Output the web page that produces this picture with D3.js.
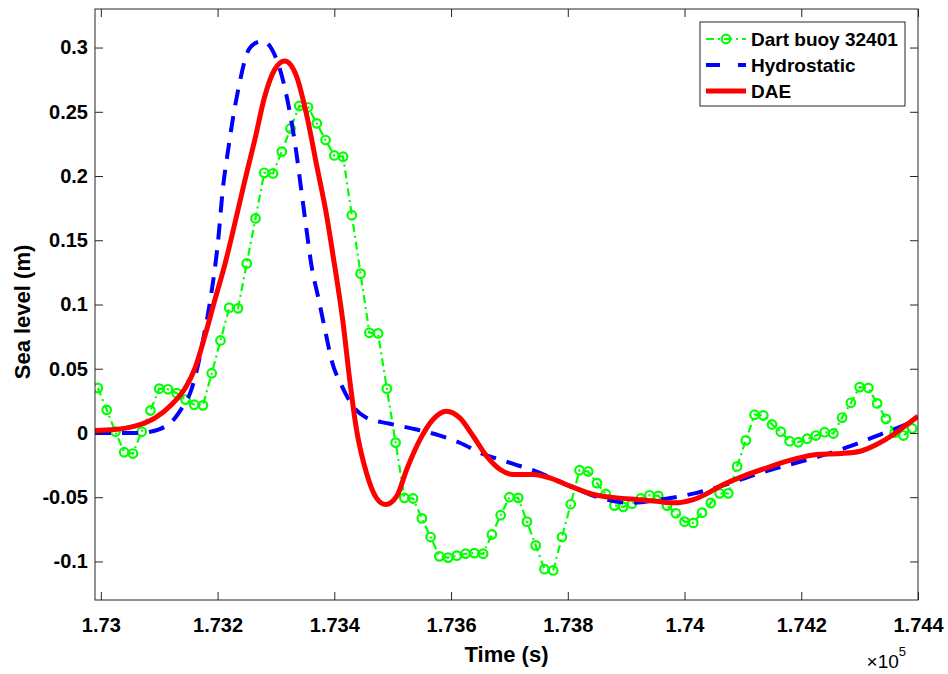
<!DOCTYPE html>
<html><head><meta charset="utf-8">
<script src="https://cdn.jsdelivr.net/npm/d3@7"></script>
<style>
body{margin:0;background:#fff;}
text{font-family:"Liberation Sans",Arial,Helvetica,sans-serif;}
</style></head>
<body><svg id="chart" width="948" height="674"></svg>
<script>
// ---------- data ----------
const buoyTimes = [172995,173010,173025,173040,173055,173070,173085,173100,173115,173130,
173145,173160,173175,173190,173205,173220,173235,173250,173265,173280,
173295,173310,173325,173340,173355,173370,173385,173400,173415,173430,
173445,173460,173475,173490,173505,173520,173535,173550,173565,173580,
173595,173610,173625,173640,173655,173670,173685,173700,173715,173730,
173745,173760,173775,173790,173805,173820,173835,173850,173865,173880,
173895,173910,173925,173940,173955,173970,173985,174000,174015,174030,
174045,174060,174075,174090,174105,174120,174135,174150,174165,174180,
174195,174210,174225,174240,174255,174270,174285,174300,174315,174330,
174345,174360,174375,174390];
const buoyLevels = [0.035,0.018,0.001,-0.015,-0.016,0.001,0.0175,0.0345,0.034,0.031,
0.026,0.022,0.0215,0.0465,0.072,0.0975,0.097,0.132,0.167,0.2025,
0.202,0.219,0.237,0.2545,0.2535,0.241,0.228,0.216,0.215,0.1695,
0.124,0.078,0.0775,0.0345,-0.0075,-0.0505,-0.051,-0.0665,-0.081,-0.096,
-0.097,-0.0955,-0.094,-0.0935,-0.094,-0.079,-0.064,-0.05,-0.0505,-0.069,
-0.0875,-0.106,-0.107,-0.081,-0.0555,-0.029,-0.030,-0.039,-0.0475,-0.0565,
-0.0575,-0.055,-0.051,-0.0485,-0.049,-0.0565,-0.0625,-0.069,-0.070,-0.062,
-0.0545,-0.047,-0.047,-0.026,-0.0058,0.0142,0.0136,0.0066,0.001,-0.0064,
-0.0072,-0.0045,-0.002,0.0006,-0.0004,0.012,0.0235,0.0357,0.035,0.023,
0.011,0.0002,-0.002,0.0035];

const hydroTimes = [172990,173060,173085,173101,173122,173141,173153,173165,173175,173187,
173201,173209,173218,173226,173238,173250,173263,173278,173293,173310,
173324,173335,173344,173353,173361,173372,173384,173395,173413,173432,
173455,173495,173541,173581,173615,173650,173701,173752,173804,173855,
173907,173958,174021,174072,174124,174181,174232,174284,174335,174392,174400];
const hydroLevels = [0.0,0.0,0.001,0.003,0.009,0.021,0.031,0.05,0.072,0.102,
0.15,0.19,0.22,0.244,0.273,0.295,0.303,0.305,0.2987,0.278,
0.249,0.218,0.187,0.156,0.130,0.1065,0.0806,0.0572,0.0364,0.0209,
0.0118,0.0072,0.0027,-0.002,-0.0076,-0.0154,-0.0232,-0.031,-0.0414,-0.0505,
-0.0544,-0.0518,-0.0466,-0.040,-0.032,-0.0245,-0.018,-0.0103,-0.0012,0.0092,0.011];

const daeTimes = [172990,173024,173058,173093,173121,173146,173161,173178,173195,173213,
173230,173247,173264,173281,173298,173315,173335,173353,173370,173387,
173398,173415,173427,173438,173455,173472,173488,173507,173524,173547,
173569,173592,173615,173638,173661,173684,173707,173741,173769,173804,
173844,173884,173918,173952,173981,174015,174041,174061,174101,174141,
174186,174227,174267,174301,174329,174358,174381,174400];
const daeLevels = [0.002,0.0027,0.0053,0.0118,0.022,0.036,0.05,0.075,0.103,0.132,
0.164,0.197,0.2286,0.2623,0.283,0.2896,0.278,0.2467,0.2078,0.1688,
0.1377,0.0858,0.039,0.0027,-0.031,-0.0505,-0.0557,-0.0492,-0.0284,-0.005,
0.0105,0.017,0.0118,-0.0025,-0.018,-0.0284,-0.0323,-0.0323,-0.0349,-0.0414,
-0.0479,-0.0505,-0.0518,-0.0531,-0.0544,-0.0518,-0.0466,-0.0414,-0.0336,-0.0271,
-0.0206,-0.0167,-0.016,-0.0142,-0.009,-0.0012,0.0066,0.013];

const xTicks = [173000,173200,173400,173600,173800,174000,174200,174400];
const xTickLabels = ["1.73","1.732","1.734","1.736","1.738","1.74","1.742","1.744"];
const yTicks = [-0.1,-0.05,0,0.05,0.1,0.15,0.2,0.25,0.3];
const yTickLabels = ["-0.1","-0.05","0","0.05","0.1","0.15","0.2","0.25","0.3"];
const seriesNames = ["Dart buoy 32401","Hydrostatic","DAE"];
const xLabel = "Time (s)";
const yLabel = "Sea level (m)";

// ---------- layout ----------
const L = 95, T = 9, R = 918, B = 600;
const svg = d3.select("#chart");
const x = d3.scaleLinear().domain([172990, 174400]).range([L, R]);
const y = d3.scaleLinear().domain([-0.13, 0.33]).range([B, T]);
const axisColor = "#262626";

svg.append("rect").attr("x",0).attr("y",0).attr("width",948).attr("height",674).attr("fill","#fff");

svg.append("defs").append("clipPath").attr("id","clip")
  .append("rect").attr("x",L).attr("y",T).attr("width",R-L).attr("height",B-T);

const plot = svg.append("g").attr("clip-path","url(#clip)");

const buoy = buoyTimes.map((t,i)=>({t, v: buoyLevels[i]}));
const hydro = hydroTimes.map((t,i)=>({t, v: hydroLevels[i]}));
const dae = daeTimes.map((t,i)=>({t, v: daeLevels[i]}));

const straight = d3.line().x(d=>x(d.t)).y(d=>y(d.v));
const smooth = d3.line().x(d=>x(d.t)).y(d=>y(d.v)).curve(d3.curveMonotoneX);

// Dart buoy (green dash-dot with circles)
plot.append("path").datum(buoy).attr("d", straight)
  .attr("fill","none").attr("stroke","#00ff00").attr("stroke-width",2.2)
  .attr("stroke-dasharray","8,4,2,4");
plot.append("g").selectAll("circle").data(buoy).join("circle")
  .attr("cx", d=>x(d.t)).attr("cy", d=>y(d.v)).attr("r",4.3)
  .attr("fill","none").attr("stroke","#00ff00").attr("stroke-width",2.2);

// Hydrostatic (blue dashed)
plot.append("path").datum(hydro).attr("d", smooth)
  .attr("fill","none").attr("stroke","#0000ff").attr("stroke-width",4)
  .attr("stroke-dasharray","16,11");

// DAE (red solid)
plot.append("path").datum(dae).attr("d", smooth)
  .attr("fill","none").attr("stroke","#ff0000").attr("stroke-width",5)
  .attr("stroke-linejoin","round");

// ---------- axes ----------
const fontTick = "20px";
const gx = svg.append("g").attr("transform",`translate(0,${B})`)
  .call(d3.axisBottom(x).tickValues(xTicks).tickFormat((d,i)=>xTickLabels[i])
    .tickSizeInner(-8).tickSizeOuter(0).tickPadding(18));
const gxt = svg.append("g").attr("transform",`translate(0,${T})`)
  .call(d3.axisTop(x).tickValues(xTicks).tickFormat("").tickSizeInner(-8).tickSizeOuter(0));
const gy = svg.append("g").attr("transform",`translate(${L},0)`)
  .call(d3.axisLeft(y).tickValues(yTicks).tickFormat((d,i)=>yTickLabels[i])
    .tickSizeInner(-8).tickSizeOuter(0).tickPadding(7));
const gyr = svg.append("g").attr("transform",`translate(${R},0)`)
  .call(d3.axisRight(y).tickValues(yTicks).tickFormat("").tickSizeInner(-8).tickSizeOuter(0));

[gx,gxt,gy,gyr].forEach(g=>{
  g.select(".domain").remove();
  g.selectAll(".tick line").attr("stroke",axisColor).attr("stroke-width",1);
  g.selectAll(".tick text").attr("fill","#000").attr("font-size",fontTick)
    .attr("font-weight","bold").attr("font-family","'Liberation Sans',Arial,sans-serif");
});

svg.append("rect").attr("x",L).attr("y",T).attr("width",R-L).attr("height",B-T)
  .attr("fill","none").attr("stroke",axisColor).attr("stroke-width",1);

// axis labels
svg.append("text").attr("x",(L+R)/2).attr("y",662).attr("text-anchor","middle")
  .attr("font-size","22px").attr("font-weight","bold").text(xLabel);
svg.append("text").attr("transform",`translate(30,312) rotate(-90)`)
  .attr("text-anchor","middle").attr("font-size","22px").attr("font-weight","bold").text(yLabel);

// exponent
const ex = svg.append("text").attr("x",906).attr("y",668).attr("text-anchor","end")
  .attr("font-size","19px").attr("fill","#000");
ex.append("tspan").text("×10");
ex.append("tspan").attr("dy",-12).attr("font-size","13px").text("5");

// ---------- legend ----------
const lg = svg.append("g");
lg.append("rect").attr("x",700).attr("y",22).attr("width",205).attr("height",84)
  .attr("fill","#fff").attr("stroke",axisColor).attr("stroke-width",1);
const rowsY = [39, 65, 91];
const lx0 = 706, lx1 = 746;
// Dart
lg.append("line").attr("x1",lx0).attr("x2",lx1).attr("y1",rowsY[0]).attr("y2",rowsY[0])
  .attr("stroke","#00ff00").attr("stroke-width",2.2).attr("stroke-dasharray","8,4,2,4");
lg.append("circle").attr("cx",(lx0+lx1)/2).attr("cy",rowsY[0]).attr("r",4.3)
  .attr("fill","none").attr("stroke","#00ff00").attr("stroke-width",2.2);
// Hydro
lg.append("line").attr("x1",lx0).attr("x2",lx1).attr("y1",rowsY[1]).attr("y2",rowsY[1])
  .attr("stroke","#0000ff").attr("stroke-width",4).attr("stroke-dasharray","14,18");
// DAE
lg.append("line").attr("x1",lx0).attr("x2",lx1).attr("y1",rowsY[2]).attr("y2",rowsY[2])
  .attr("stroke","#ff0000").attr("stroke-width",5);
lg.selectAll("text.lt").data(seriesNames).join("text").attr("class","lt")
  .attr("x",751).attr("y",(d,i)=>rowsY[i]).attr("dy","0.36em")
  .attr("font-size","19px").attr("font-weight","bold").attr("fill","#000").text(d=>d);
</script>
</body></html>
